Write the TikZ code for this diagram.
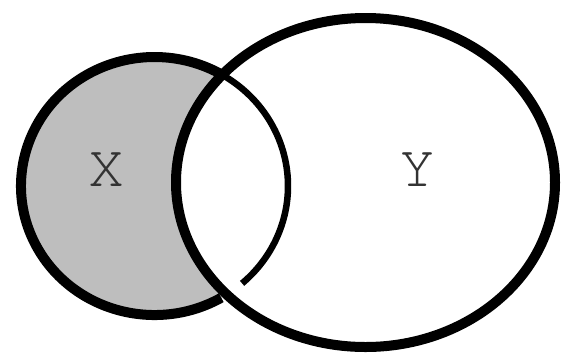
\documentclass[tikz,border=0pt]{standalone}
\usepackage[T1]{fontenc}
\definecolor{setfill}{HTML}{BEBEBE}
\tikzset{
  vthick/.style={line width=10pt,draw=black},
  vthin/.style={line width=6.5pt,draw=black},
  vlabel/.style={font=\fontfamily{pcr}\fontsize{60}{60}\selectfont,text=black!80,inner sep=0pt}
}
\begin{document}
\begin{tikzpicture}[x=1pt,y=-1pt]
  \useasboundingbox (0,0) rectangle (561,357);
  % X without Y is shaded
  \fill[setfill] (154.5,186) ellipse [x radius=133.5,y radius=129];
  \fill[white] (365.5,182.5) ellipse [x radius=189.5,y radius=164.5];
  % part of X inside Y, thinner and open at the bottom
  \draw[vthin] (154.5,186) ++(-59:133.5 and 129) arc [start angle=-59,end angle=49,x radius=133.5,y radius=129];
  \draw[vthick] (365.5,182.5) ellipse [x radius=189.5,y radius=164.5];
  \draw[vthick] (154.5,186) ++(60:133.5 and 129) arc [start angle=60,end angle=301,x radius=133.5,y radius=129];
  \node[vlabel] (xlab) at (106,170) {X};
  \node[vlabel] (ylab) at (417,170) {Y};
\end{tikzpicture}
\end{document}
